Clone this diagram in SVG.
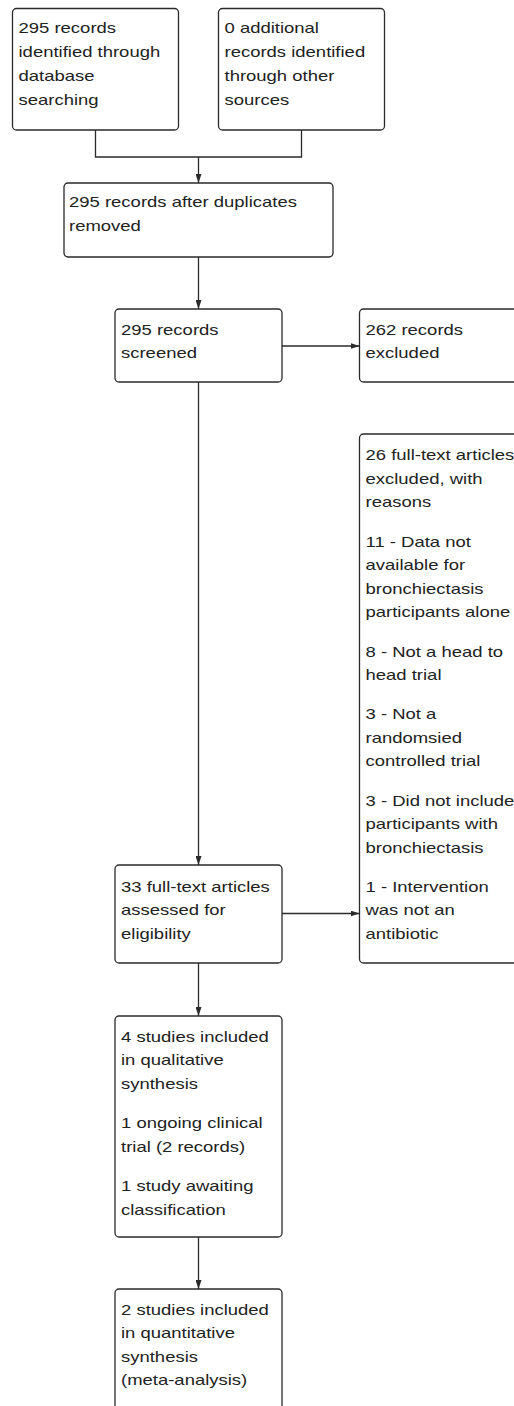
<svg xmlns="http://www.w3.org/2000/svg" width="514" height="1406" viewBox="0 0 514 1406">
<style>
.box{fill:#ffffff;stroke:#2a2a2a;stroke-width:1.3}
.t{font-family:"Liberation Sans",Arial,sans-serif;font-size:15.4px;fill:#222222}
.c{fill:none;stroke:#2a2a2a;stroke-width:1.3}
</style>
<defs>
<marker id="ah" markerUnits="userSpaceOnUse" markerWidth="9" markerHeight="6" refX="9" refY="3" orient="auto">
<path d="M0,0 L9,3 L0,6 z" fill="#2a2a2a"/>
</marker>
</defs>
<rect x="0" y="0" width="514" height="1406" fill="#ffffff"/>
<g id="connectors">
<path class="c" d="M95.5,130 V157 H301.5 V130"/>
<path class="c" d="M198.5,157 V183" marker-end="url(#ah)"/>
<path class="c" d="M198.5,257 V309" marker-end="url(#ah)"/>
<path class="c" d="M282,346 H359.5" marker-end="url(#ah)"/>
<path class="c" d="M198.5,382 V865" marker-end="url(#ah)"/>
<path class="c" d="M282,913.5 H359.5" marker-end="url(#ah)"/>
<path class="c" d="M198.5,963 V1016" marker-end="url(#ah)"/>
<path class="c" d="M198.5,1237 V1289" marker-end="url(#ah)"/>
</g>
<g id="n1">
<rect class="box" x="12.5" y="8.5" width="166" height="121.5" rx="4"/>
<text class="t" transform="translate(18.5 0) scale(1.2 1)"><tspan x="0" y="33.5">295 records</tspan><tspan x="0" y="57.5">identified through</tspan><tspan x="0" y="81.5">database</tspan><tspan x="0" y="105.5">searching</tspan></text>
</g>
<g id="n2">
<rect class="box" x="218.5" y="8.5" width="166" height="121.5" rx="4"/>
<text class="t" transform="translate(224.5 0) scale(1.2 1)"><tspan x="0" y="33.5">0 additional</tspan><tspan x="0" y="57.5">records identified</tspan><tspan x="0" y="81.5">through other</tspan><tspan x="0" y="105.5">sources</tspan></text>
</g>
<g id="n3">
<rect class="box" x="64" y="183" width="269" height="74" rx="4"/>
<text class="t" transform="translate(69 0) scale(1.2 1)"><tspan x="0" y="207.5">295 records after duplicates</tspan><tspan x="0" y="231">removed</tspan></text>
</g>
<g id="n4">
<rect class="box" x="115" y="309" width="167" height="73" rx="4"/>
<text class="t" transform="translate(121 0) scale(1.2 1)"><tspan x="0" y="335">295 records</tspan><tspan x="0" y="358.5">screened</tspan></text>
</g>
<g id="n5">
<rect class="box" x="359.5" y="309" width="170" height="73" rx="4"/>
<text class="t" transform="translate(365.5 0) scale(1.2 1)"><tspan x="0" y="335">262 records</tspan><tspan x="0" y="358.5">excluded</tspan></text>
</g>
<g id="n6">
<rect class="box" x="359.5" y="434" width="170" height="529" rx="4"/>
<text class="t" transform="translate(365.5 0) scale(1.2 1)"><tspan x="0" y="460.5">26 full-text articles</tspan><tspan x="0" y="484">excluded, with</tspan><tspan x="0" y="507.5">reasons</tspan><tspan x="0" y="546.8">11 - Data not</tspan><tspan x="0" y="570.3">available for</tspan><tspan x="0" y="593.8">bronchiectasis</tspan><tspan x="0" y="617.3">participants alone</tspan><tspan x="0" y="656.6">8 - Not a head to</tspan><tspan x="0" y="680.1">head trial</tspan><tspan x="0" y="719.4">3 - Not a</tspan><tspan x="0" y="742.9">randomsied</tspan><tspan x="0" y="766.4">controlled trial</tspan><tspan x="0" y="805.7">3 - Did not include</tspan><tspan x="0" y="829.2">participants with</tspan><tspan x="0" y="852.7">bronchiectasis</tspan><tspan x="0" y="892">1 - Intervention</tspan><tspan x="0" y="915.5">was not an</tspan><tspan x="0" y="939">antibiotic</tspan></text>
</g>
<g id="n7">
<rect class="box" x="115" y="865" width="167" height="98" rx="4"/>
<text class="t" transform="translate(121 0) scale(1.2 1)"><tspan x="0" y="892">33 full-text articles</tspan><tspan x="0" y="915.5">assessed for</tspan><tspan x="0" y="939">eligibility</tspan></text>
</g>
<g id="n8">
<rect class="box" x="115" y="1016" width="167" height="221" rx="4"/>
<text class="t" transform="translate(121 0) scale(1.2 1)"><tspan x="0" y="1042">4 studies included</tspan><tspan x="0" y="1065.5">in qualitative</tspan><tspan x="0" y="1089">synthesis</tspan><tspan x="0" y="1128.3">1 ongoing clinical</tspan><tspan x="0" y="1151.8">trial (2 records)</tspan><tspan x="0" y="1191.1">1 study awaiting</tspan><tspan x="0" y="1214.6">classification</tspan></text>
</g>
<g id="n9">
<rect class="box" x="115" y="1289" width="167" height="122" rx="4"/>
<text class="t" transform="translate(121 0) scale(1.2 1)"><tspan x="0" y="1315">2 studies included</tspan><tspan x="0" y="1338.5">in quantitative</tspan><tspan x="0" y="1362">synthesis</tspan><tspan x="0" y="1385.5">(meta-analysis)</tspan></text>
</g>
</svg>
